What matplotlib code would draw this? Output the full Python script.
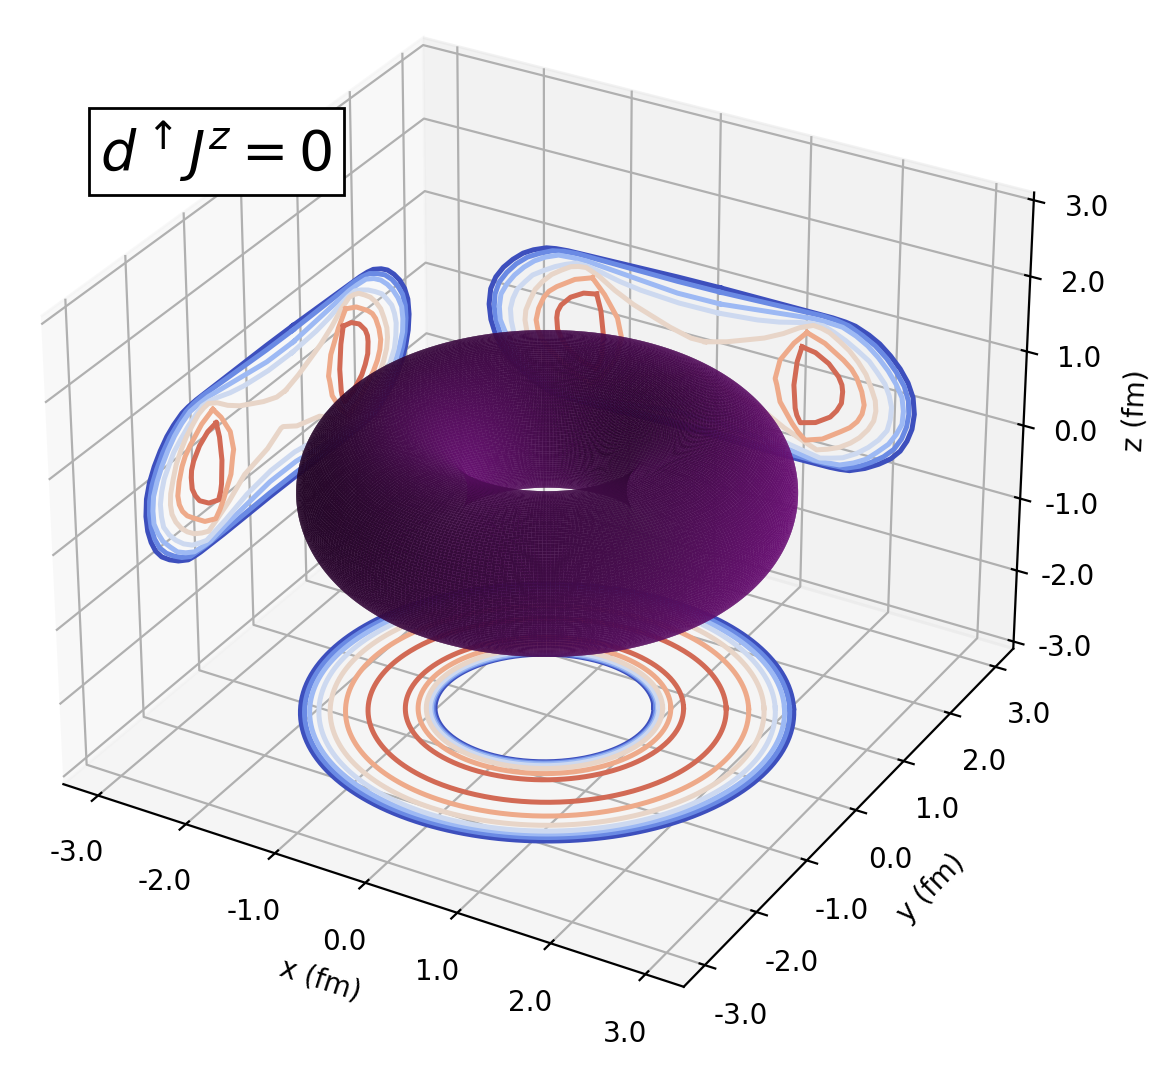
import matplotlib
matplotlib.use('Agg')
import matplotlib.pyplot as plt
import numpy as np

limits = [-3.4, 3.4]
zlimits = [-3.1, 3.1]
ticks = [-3.0, -2.0, -1.0, 0.0, 1.0, 2.0, 3.0]
tick_labels = ['-3.0', '-2.0', '-1.0', '0.0', '1.0', '2.0', '3.0']

major_radius = 1.58
minor_radius_r = 0.82
minor_radius_z = 0.92

# contour level colours, low to high
level_colors = ['#3d4fbd', '#6a8ae4', '#9db9f4', '#cdd9f0', '#e8d5c8', '#eeaa8a', '#d26a55']

# floor contours: ring half-axes per level (fm), long axis along ring_tilt
ring_tilt = 30.0
outer_long = [2.41, 2.37, 2.32, 2.23, 2.12, 1.97, 1.75]
outer_short = [2.36, 2.30, 2.24, 2.19, 2.09, 1.93, 1.69]
inner_long = [1.07, 1.09, 1.105, 1.12, 1.155, 1.235, 1.36]
inner_short = [0.99, 1.01, 1.03, 1.06, 1.11, 1.20, 1.31]
inner_shift = -0.03

# wall contours: right half of each level, horizontal position s and height z (fm)
dark_s = [0.24, 1.49, 1.63, 1.74, 1.89, 2.01, 2.13, 2.24, 2.33, 2.39, 2.41, 2.39, 2.34, 2.27, 2.17, 2.04, 1.89, 1.72, 1.61, 1.50, 1.09, 0.24]
dark_z = [1.05, 1.05, 1.04, 1.02, 0.95, 0.87, 0.75, 0.61, 0.45, 0.27, 0.05, -0.16, -0.34, -0.50, -0.64, -0.76, -0.87, -0.96, -0.98, -0.99, -1.00, -1.00]
mid_s = [0.24, 1.38, 1.53, 1.67, 1.82, 1.96, 2.09, 2.20, 2.29, 2.34, 2.35, 2.33, 2.28, 2.20, 2.09, 1.96, 1.83, 1.68, 1.55, 1.42, 1.09, 0.24]
mid_z = [0.99, 1.04, 1.03, 1.00, 0.92, 0.83, 0.70, 0.55, 0.39, 0.21, 0.03, -0.15, -0.33, -0.50, -0.64, -0.76, -0.86, -0.94, -0.95, -0.96, -0.96, -0.95]
light_s = [0.24, 1.28, 1.44, 1.60, 1.75, 1.88, 2.00, 2.11, 2.20, 2.27, 2.29, 2.28, 2.22, 2.14, 2.02, 1.90, 1.76, 1.61, 1.46, 1.32, 1.05, 0.24]
light_z = [0.83, 0.97, 0.97, 0.96, 0.89, 0.80, 0.68, 0.54, 0.39, 0.23, 0.05, -0.13, -0.29, -0.45, -0.60, -0.74, -0.84, -0.92, -0.94, -0.95, -0.90, -0.80]
pale_s = [0.22, 0.66, 0.90, 1.13, 1.26, 1.39, 1.51, 1.64, 1.77, 1.90, 1.99, 2.08, 2.13, 2.16, 2.15, 2.12, 2.03, 1.92, 1.79, 1.64, 1.51, 1.39, 1.05, 0.66, 0.22]
pale_z = [0.70, 0.75, 0.80, 0.87, 0.90, 0.91, 0.86, 0.79, 0.70, 0.60, 0.48, 0.35, 0.21, 0.06, -0.11, -0.27, -0.43, -0.57, -0.70, -0.81, -0.86, -0.90, -0.83, -0.72, -0.66]
beige_s = [0.08, 0.32, 0.52, 0.74, 0.95, 1.13, 1.28, 1.37, 1.46, 1.57, 1.68, 1.78, 1.87, 1.93, 1.98, 1.99, 1.97, 1.91, 1.82, 1.72, 1.60, 1.47, 1.35, 1.20, 0.98, 0.69, 0.27, 0.02]
beige_z = [0.26, 0.34, 0.43, 0.53, 0.66, 0.80, 0.88, 0.87, 0.84, 0.76, 0.67, 0.55, 0.41, 0.25, 0.09, -0.05, -0.19, -0.33, -0.47, -0.58, -0.68, -0.75, -0.80, -0.73, -0.62, -0.43, -0.33, -0.20]
salmon_s = [1.21, 1.41, 1.62, 1.71, 1.77, 1.83, 1.86, 1.84, 1.79, 1.71, 1.61, 1.41, 1.22, 1.14, 1.07, 0.93, 0.89, 0.87, 0.92, 1.07]
salmon_z = [0.76, 0.68, 0.52, 0.43, 0.33, 0.16, -0.01, -0.14, -0.26, -0.37, -0.46, -0.63, -0.71, -0.63, -0.53, -0.28, -0.06, 0.02, 0.29, 0.57]
red_s = [1.16, 1.31, 1.46, 1.57, 1.61, 1.62, 1.61, 1.56, 1.49, 1.33, 1.16, 1.12, 1.10, 1.08, 1.11]
red_z = [0.55, 0.52, 0.42, 0.28, 0.18, 0.09, -0.07, -0.19, -0.30, -0.43, -0.49, -0.40, -0.31, 0.00, 0.33]

wall_levels = [(0, dark_s, dark_z), (1, mid_s, mid_z), (2, light_s, light_z),
               (3, pale_s, pale_z), (4, beige_s, beige_z)]
lobe_levels = [(5, salmon_s, salmon_z), (6, red_s, red_z)]

# walls lean slightly: x<0 on the back wall and y>0 on the left wall sit a little lower
wall_lean = 0.035

fig = plt.figure(figsize=(5.82, 5.34), dpi=200)
ax = fig.add_axes([-0.0598, 0.0108, 1.034, 1.034], projection='3d')
ax.computed_zorder = False


def wall_line(s, z, color):
    # back wall y=3 and left wall x=-3
    ax.plot(s, np.full(len(s), 3.0), z + wall_lean * np.minimum(s, 0), color=color, lw=1.8, zorder=1)
    ax.plot(np.full(len(s), -3.0), s, z - wall_lean * np.maximum(s, 0), color=color, lw=1.8, zorder=1)


angle = np.linspace(0, 2 * np.pi, 361)
tilt = np.radians(ring_tilt)
for i in range(7):
    c = level_colors[i]
    for a, b, shift in ((outer_long[i], outer_short[i], 0.0), (inner_long[i], inner_short[i], inner_shift)):
        u = a * np.cos(angle)
        v = b * np.sin(angle)
        ax.plot(u * np.cos(tilt) - v * np.sin(tilt) + shift, u * np.sin(tilt) + v * np.cos(tilt),
                np.full(361, -3.0), color=c, lw=1.8, zorder=1)

for i, s, z in wall_levels:
    s = np.array(s)
    z = np.array(z)
    wall_line(np.r_[s, -s[::-1], s[0]], np.r_[z, z[::-1], z[0]], level_colors[i])

for i, s, z in lobe_levels:
    s = np.array(s)
    z = np.array(z)
    wall_line(np.r_[s, s[0]], np.r_[z, z[0]], level_colors[i])
    wall_line(-np.r_[s, s[0]], np.r_[z, z[0]], level_colors[i])

theta = np.linspace(0, 2 * np.pi, 360)
phi = np.linspace(0, -2 * np.pi, 180)
theta, phi = np.meshgrid(theta, phi)
X = (major_radius + minor_radius_r * np.cos(phi)) * np.cos(theta)
Y = (major_radius + minor_radius_r * np.cos(phi)) * np.sin(theta)
Z = minor_radius_z * np.sin(phi)
ax.plot_surface(X, Y, Z, color='#74147f', rstride=1, cstride=1, alpha=0.95, linewidth=0, zorder=2)

ax.set_xlim(limits)
ax.set_ylim(limits)
ax.set_zlim(zlimits)
ax.set_xticks(ticks, tick_labels)
ax.set_yticks(ticks, tick_labels)
ax.set_zticks(ticks, tick_labels)
ax.set_xlabel('x (fm)')
ax.set_ylabel('y (fm)')
ax.set_zlabel('z (fm)')

fig.text(0.186, 0.858, r'$d^{\uparrow}J^{z}=0$', fontsize=20, ha='center', va='center',
         bbox=dict(boxstyle='square', pad=0.2, fc='white', ec='black'))

fig.savefig('out.png', dpi=200)
